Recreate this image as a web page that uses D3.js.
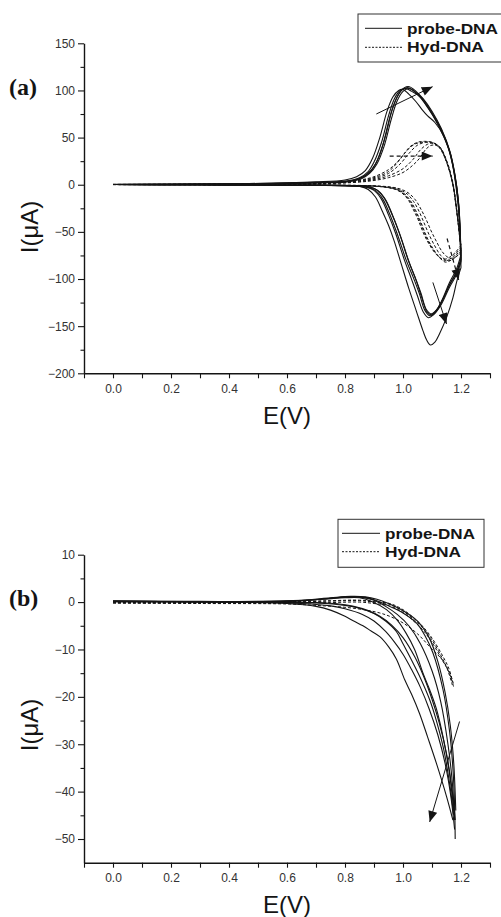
<!DOCTYPE html>
<html>
<head>
<meta charset="utf-8">
<script src="https://cdn.jsdelivr.net/npm/d3@7"></script>
<style>
  body { margin: 0; background: #fff; }
  svg { display: block; }
</style>
</head>
<body>
<svg id="chart" width="501" height="917"></svg>
<script>
// ---- Axis ticks ----
const eTicks = [0.0, 0.2, 0.4, 0.6, 0.8, 1.0, 1.2];
const eMinorTicks = [-0.1, 0.1, 0.3, 0.5, 0.7, 0.9, 1.1, 1.3];
const aCurrentTicks = [150, 100, 50, 0, -50, -100, -150, -200];
const aCurrentMinor = [125, 75, 25, -25, -75, -125, -175];
const bCurrentTicks = [10, 0, -10, -20, -30, -40, -50];
const bCurrentMinor = [5, -5, -15, -25, -35, -45];
const legendLabels = ['probe-DNA', 'Hyd-DNA'];

// ---- Panel (a): cyclic voltammograms, [E (V), I (µA)] ----
// probe-DNA, anodic sweeps 0 -> 1.2 V
const aProbeFwd1 = [[0,0.3],[0.2,0.4],[0.4,0.8],[0.6,1.5],[0.7,2.2],[0.8,3.2],[0.85,6.5],[0.88,12],[0.905,22],[0.93,42],[0.955,72],[0.975,90],[0.995,100],[1.015,103],[1.035,100],[1.06,93],[1.09,80],[1.125,62],[1.158,38],[1.177,13],[1.19,-15],[1.2,-78]];
const aProbeFwd2 = [[0,0.3],[0.2,0.5],[0.4,0.9],[0.6,1.7],[0.7,2.5],[0.8,3.8],[0.85,7.5],[0.88,14],[0.9,24],[0.925,44],[0.95,73],[0.97,91],[0.99,100],[1.01,102],[1.03,99],[1.055,94],[1.085,82],[1.12,64],[1.155,40],[1.175,15],[1.19,-18],[1.2,-82]];
const aProbeFwd3 = [[0,0.2],[0.2,0.3],[0.4,0.7],[0.6,1.3],[0.7,2],[0.8,2.8],[0.855,6],[0.885,12],[0.91,22],[0.935,41],[0.96,70],[0.98,89],[1.0,99],[1.02,102],[1.04,99],[1.065,92],[1.095,79],[1.13,60],[1.16,37],[1.179,11],[1.192,-20],[1.2,-74]];
const aProbeFwd4 = [[0,0.4],[0.2,0.6],[0.4,1],[0.6,2],[0.7,3],[0.8,5],[0.84,8.5],[0.87,15],[0.895,28],[0.92,50],[0.945,78],[0.965,93],[0.985,100],[1.0,101],[1.02,96],[1.045,88],[1.065,80],[1.085,73],[1.11,66],[1.14,52],[1.165,30],[1.182,0],[1.194,-35],[1.2,-88]];
const aProbeFwd5 = [[0,0.3],[0.3,0.5],[0.5,1],[0.65,1.8],[0.75,2.6],[0.82,4],[0.86,8],[0.89,15],[0.915,28],[0.94,52],[0.963,80],[0.985,96],[1.005,103],[1.022,104],[1.045,99],[1.07,91],[1.1,78],[1.133,59],[1.163,34],[1.18,8],[1.193,-25],[1.2,-80]];
// probe-DNA, cathodic sweeps 1.2 -> 0 V
const aProbeRev1 = [[1.2,-78],[1.185,-92],[1.16,-106],[1.13,-126],[1.11,-135],[1.093,-139],[1.075,-133],[1.057,-116],[1.035,-98],[1.011,-80],[0.98,-52],[0.954,-31],[0.93,-15],[0.905,-6],[0.875,-2.5],[0.8,-1],[0.6,-0.5],[0.4,-0.2],[0.2,0],[0,0.2]];
const aProbeRev2 = [[1.2,-82],[1.185,-95],[1.16,-109],[1.13,-128],[1.105,-138],[1.088,-141],[1.07,-135],[1.05,-118],[1.028,-99],[1.005,-80],[0.975,-52],[0.95,-32],[0.925,-15],[0.9,-6],[0.87,-2.5],[0.8,-1],[0.6,-0.5],[0.3,0],[0,0.2]];
const aProbeRev3 = [[1.2,-74],[1.185,-89],[1.16,-104],[1.135,-122],[1.115,-133],[1.098,-137],[1.08,-132],[1.062,-115],[1.04,-97],[1.017,-79],[0.987,-51],[0.96,-30],[0.935,-14],[0.91,-5.5],[0.88,-2],[0.8,-0.8],[0.6,-0.4],[0.3,0],[0,0.2]];
const aProbeRev4 = [[1.2,-88],[1.185,-103],[1.172,-120],[1.15,-141],[1.126,-158],[1.11,-167],[1.095,-170],[1.082,-165],[1.069,-155],[1.046,-134],[1.02,-110],[0.995,-85],[0.97,-60],[0.95,-43],[0.93,-29],[0.905,-13],[0.88,-5],[0.855,-2],[0.8,-1],[0.6,-0.4],[0.3,0],[0,0.3]];
const aProbeRev5 = [[1.2,-80],[1.185,-93],[1.165,-104],[1.14,-120],[1.12,-132],[1.1,-138],[1.083,-135],[1.065,-120],[1.045,-101],[1.022,-83],[0.992,-55],[0.965,-33],[0.94,-16],[0.915,-6.5],[0.885,-2.5],[0.8,-1],[0.6,-0.5],[0.3,0],[0,0.2]];
// Hyd-DNA, anodic sweeps
const aHydFwd1 = [[0,0.3],[0.3,0.5],[0.6,1],[0.75,2],[0.85,4.5],[0.9,7.5],[0.95,14],[0.99,27],[1.023,40],[1.05,45],[1.075,46],[1.1,45],[1.126,40],[1.15,24],[1.172,0],[1.186,-30],[1.2,-66]];
const aHydFwd2 = [[0,0.2],[0.3,0.4],[0.6,0.9],[0.75,1.8],[0.85,4],[0.9,6.5],[0.95,12],[0.99,22],[1.02,33],[1.05,42],[1.078,45],[1.1,45],[1.126,40],[1.15,25],[1.172,1],[1.186,-30],[1.2,-68]];
const aHydFwd3 = [[0,0.2],[0.3,0.4],[0.6,0.8],[0.75,1.5],[0.85,3.3],[0.9,5.5],[0.95,9.5],[1.0,17],[1.035,27],[1.06,37],[1.085,43],[1.105,44],[1.13,39],[1.152,23],[1.173,-1],[1.187,-32],[1.2,-70]];
const aHydFwd4 = [[0,0.2],[0.3,0.3],[0.6,0.7],[0.75,1.3],[0.85,2.8],[0.9,4.5],[0.95,7.5],[1.0,13],[1.035,21],[1.057,28],[1.08,38],[1.1,42],[1.125,40],[1.15,26],[1.172,2],[1.187,-30],[1.2,-72]];
const aHydFwd5 = [[0,0.3],[0.3,0.5],[0.6,1],[0.75,2.2],[0.85,5],[0.9,8.5],[0.95,16],[0.98,24],[1.01,35],[1.04,43],[1.065,45],[1.09,45],[1.12,41],[1.148,26],[1.17,2],[1.185,-28],[1.2,-64]];
// Hyd-DNA, cathodic sweeps
const aHydRev1 = [[1.2,-66],[1.18,-74],[1.16,-79],[1.14,-80],[1.12,-75],[1.092,-63],[1.075,-52],[1.057,-38],[1.04,-27],[1.023,-17],[1.0,-9],[0.975,-5],[0.95,-3],[0.9,-1.5],[0.8,-0.7],[0.6,-0.3],[0.3,0],[0,0.2]];
const aHydRev2 = [[1.2,-68],[1.18,-76],[1.16,-81],[1.145,-82],[1.125,-77],[1.1,-66],[1.08,-54],[1.062,-40],[1.045,-28],[1.028,-18],[1.005,-9.5],[0.98,-5],[0.95,-3],[0.9,-1.5],[0.8,-0.7],[0.6,-0.3],[0.3,0],[0,0.2]];
const aHydRev3 = [[1.2,-70],[1.182,-77],[1.165,-80],[1.15,-80],[1.13,-75],[1.108,-64],[1.09,-53],[1.072,-40],[1.055,-28],[1.037,-18],[1.015,-10],[0.99,-5.5],[0.96,-3],[0.9,-1.3],[0.8,-0.6],[0.6,-0.3],[0.3,0],[0,0.2]];
const aHydRev4 = [[1.2,-72],[1.185,-76],[1.17,-78],[1.155,-77],[1.135,-71],[1.115,-60],[1.097,-49],[1.08,-37],[1.062,-26],[1.045,-17],[1.022,-9.5],[0.995,-5],[0.96,-2.5],[0.9,-1.2],[0.8,-0.5],[0.6,-0.2],[0.3,0],[0,0.2]];
const aHydRev5 = [[1.2,-64],[1.18,-72],[1.16,-77],[1.138,-79],[1.115,-74],[1.088,-62],[1.07,-51],[1.052,-37],[1.035,-26],[1.018,-16],[0.995,-8.5],[0.97,-4.5],[0.94,-2.6],[0.9,-1.4],[0.8,-0.7],[0.6,-0.3],[0.3,0],[0,0.2]];
// trend arrows, [start, tip]
const aSolidArrows = [[[0.908, 75], [1.102, 104]], [[1.103, -103.6], [1.15, -147.7]]];
const aDashedArrows = [[[0.954, 30.4], [1.102, 30.4]], [[1.152, -57], [1.192, -101]]];

// ---- Panel (b) ----
const bProbe1 = [[0,0.15],[0.3,0.1],[0.5,0.1],[0.65,0.3],[0.75,0.8],[0.82,1.1],[0.87,1.0],[0.91,0.3],[0.95,-0.8],[1.0,-2.3],[1.046,-4.4],[1.075,-7],[1.103,-10.7],[1.138,-18.5],[1.16,-27],[1.172,-35],[1.178,-43],[1.18,-50]];
const bProbe2 = [[0,0.2],[0.3,0.1],[0.5,0.1],[0.65,0.3],[0.75,0.8],[0.82,1.15],[0.86,1.0],[0.9,0.4],[0.94,-0.9],[0.98,-2.6],[1.02,-5],[1.06,-8.8],[1.1,-14.5],[1.13,-21],[1.155,-30],[1.17,-38],[1.178,-46]];
const bProbe3 = [[0,0.1],[0.4,0.1],[0.6,0.2],[0.72,0.6],[0.8,0.9],[0.85,0.9],[0.89,0.2],[0.943,-1.6],[0.98,-3.8],[1.011,-6.6],[1.04,-10],[1.069,-15],[1.092,-18.5],[1.115,-22.5],[1.14,-29],[1.16,-36],[1.175,-44]];
const bProbe4 = [[1.175,-45],[1.16,-38],[1.14,-31],[1.115,-25],[1.092,-20.6],[1.06,-16],[1.035,-12.9],[1.0,-8.8],[0.977,-6.2],[0.94,-4],[0.9,-2.4],[0.85,-1.3],[0.8,-0.7],[0.7,-0.2],[0.5,0],[0.3,0.05],[0,0.15]];
const bProbe5 = [[1.172,-46],[1.15,-41],[1.115,-34],[1.085,-28.5],[1.057,-23.5],[1.03,-19.5],[1.006,-16.4],[0.977,-12],[0.95,-9.4],[0.92,-7.3],[0.89,-6.1],[0.862,-5.0],[0.83,-4],[0.8,-3],[0.75,-1.7],[0.7,-0.9],[0.6,-0.3],[0.4,0],[0,0.1]];
const bProbe6 = [[1.178,-48],[1.165,-41],[1.145,-34],[1.12,-28],[1.09,-22.5],[1.06,-18],[1.03,-14.3],[1.0,-11],[0.97,-8.4],[0.94,-6.2],[0.9,-4],[0.86,-2.6],[0.8,-1.4],[0.75,-0.8],[0.65,-0.3],[0.5,0],[0,0.15]];
const bProbe7 = [[1.18,-46],[1.168,-39],[1.15,-32],[1.125,-25.5],[1.1,-20.5],[1.07,-15.5],[1.04,-11.5],[1.0,-7.5],[0.96,-4.8],[0.92,-3],[0.88,-1.8],[0.83,-0.9],[0.78,-0.4],[0.7,-0.1],[0.5,0.05],[0,0.15]];
const bProbe8 = [[0,0.2],[0.3,0.15],[0.5,0.15],[0.65,0.4],[0.75,0.9],[0.82,1.2],[0.87,1.1],[0.91,0.6],[0.95,-0.3],[1.0,-1.8],[1.05,-4],[1.09,-7.5],[1.12,-12.5],[1.145,-19],[1.163,-26],[1.175,-34],[1.182,-44]];
const bHyd1 = [[0,-0.1],[0.3,-0.1],[0.6,0],[0.75,0.2],[0.85,0.3],[0.9,0],[0.954,-0.3],[1.0,-1.6],[1.04,-3.5],[1.069,-5.2],[1.1,-7.6],[1.138,-11.5],[1.158,-14],[1.172,-17]];
const bHyd2 = [[0,0],[0.3,0],[0.6,0.1],[0.75,0.3],[0.85,0.4],[0.9,0.1],[0.95,-0.4],[1.0,-1.9],[1.04,-3.8],[1.07,-5.6],[1.1,-8],[1.135,-11.8],[1.155,-14.5],[1.17,-17.5]];
const bHyd3 = [[0,-0.2],[0.3,-0.2],[0.6,-0.2],[0.75,-0.1],[0.85,0],[0.9,-0.3],[0.954,-0.8],[1.0,-2.2],[1.04,-4.2],[1.07,-6],[1.1,-8.5],[1.135,-12.2],[1.16,-15],[1.175,-18]];
const bHyd4 = [[0,-0.2],[0.3,-0.3],[0.6,-0.4],[0.7,-0.7],[0.8,-1.1],[0.874,-1.7],[0.92,-2.3],[0.954,-3],[1.0,-4.4],[1.05,-6.7],[1.092,-9.4],[1.138,-12.4],[1.16,-14.8],[1.175,-17.5]];
const bSolidArrows = [[[1.195, -25.2], [1.092, -46.4]]];
const bDashedArrows = [];

// ---- Drawing ----
const svg = d3.select('#chart');
const INK = '#141414';
const SANS = '"Liberation Sans", Arial, Helvetica, sans-serif';
const SERIF = '"Liberation Serif", "Times New Roman", serif';

svg.append('defs').append('marker')
  .attr('id', 'arrowHead')
  .attr('viewBox', '0 0 12 10')
  .attr('refX', 12).attr('refY', 5)
  .attr('markerUnits', 'userSpaceOnUse')
  .attr('markerWidth', 12).attr('markerHeight', 9)
  .attr('orient', 'auto')
  .append('path').attr('d', 'M0,0 L12,5 L0,10 Z').attr('fill', INK);

const x = d3.scaleLinear().domain([-0.1, 1.3]).range([84, 490]);

const panels = [
  {
    label: '(a)', labelY: 95, top: 43.3, bottom: 373.3, yDomain: [-200, 150],
    yTicks: aCurrentTicks, yMinor: aCurrentMinor, titleY: 227,
    probe: [aProbeFwd1, aProbeFwd2, aProbeFwd3, aProbeFwd4, aProbeFwd5, aProbeRev1, aProbeRev2, aProbeRev3, aProbeRev4, aProbeRev5],
    hyd: [aHydFwd1, aHydFwd2, aHydFwd3, aHydFwd4, aHydFwd5, aHydRev1, aHydRev2, aHydRev3, aHydRev4, aHydRev5],
    solidArrows: aSolidArrows, dashedArrows: aDashedArrows,
    legend: { x0: 358, x1: 506, y0: 14, y1: 62, lineX0: 365, lineX1: 402, textX: 407, rows: [28.3, 47.3], baselines: [34, 52], widths: [91, 77] }
  },
  {
    label: '(b)', labelY: 606, top: 554.7, bottom: 862.7, yDomain: [-55, 10],
    yTicks: bCurrentTicks, yMinor: bCurrentMinor, titleY: 725,
    probe: [bProbe1, bProbe2, bProbe3, bProbe4, bProbe5, bProbe6, bProbe7, bProbe8],
    hyd: [bHyd1, bHyd2, bHyd3, bHyd4],
    solidArrows: bSolidArrows, dashedArrows: bDashedArrows,
    legend: { x0: 338, x1: 484, y0: 519.3, y1: 567.3, lineX0: 342, lineX1: 380, textX: 385, rows: [533.3, 551.7], baselines: [539, 557], widths: [90, 76] }
  }
];

function styleAxis(sel) {
  sel.select('.domain').attr('stroke', INK).attr('stroke-width', 1.4);
  sel.selectAll('.tick line').attr('stroke', INK).attr('stroke-width', 1.1);
  sel.selectAll('.tick text').attr('fill', '#333').style('font-family', SANS).style('font-size', '12px');
}

panels.forEach(p => {
  const y = d3.scaleLinear().domain(p.yDomain).range([p.bottom, p.top]);
  const g = svg.append('g');

  // minor ticks
  g.append('g').attr('transform', `translate(0,${p.bottom})`)
    .call(d3.axisBottom(x).tickValues(eMinorTicks).tickSize(5).tickFormat(''))
    .call(s => { s.select('.domain').remove(); styleAxis(s); });
  g.append('g').attr('transform', 'translate(84,0)')
    .call(d3.axisLeft(y).tickValues(p.yMinor).tickSize(3.5).tickFormat(''))
    .call(s => { s.select('.domain').remove(); styleAxis(s); });

  // major ticks and axis lines
  g.append('g').attr('transform', `translate(0,${p.bottom})`)
    .call(d3.axisBottom(x).tickValues(eTicks).tickSize(5).tickSizeOuter(0).tickPadding(6).tickFormat(d3.format('.1f')))
    .call(styleAxis);
  g.append('g').attr('transform', 'translate(84,0)')
    .call(d3.axisLeft(y).tickValues(p.yTicks).tickSize(6).tickSizeOuter(0).tickPadding(3))
    .call(styleAxis);

  // axis titles
  g.append('text').attr('x', 287).attr('y', p.bottom + 50.5)
    .attr('text-anchor', 'middle').attr('fill', INK)
    .style('font-family', SANS).style('font-size', '24px').text('E(V)');
  g.append('text').attr('transform', `translate(38,${p.titleY}) rotate(-90)`)
    .attr('text-anchor', 'middle').attr('fill', INK)
    .style('font-family', SANS).style('font-size', '24px').text('I(μA)');
  g.append('text').attr('x', 9).attr('y', p.labelY).attr('fill', INK)
    .style('font-family', SERIF).style('font-weight', 'bold').style('font-size', '24px').text(p.label);

  const line = d3.line().x(d => x(d[0])).y(d => y(d[1])).curve(d3.curveCatmullRom.alpha(0.5));

  g.append('g').selectAll('path').data(p.hyd).join('path')
    .attr('d', line).attr('fill', 'none').attr('stroke', INK)
    .attr('stroke-width', 1).attr('stroke-dasharray', '3,2');
  g.append('g').selectAll('path').data(p.probe).join('path')
    .attr('d', line).attr('fill', 'none').attr('stroke', INK).attr('stroke-width', 1.1);

  // trend arrows
  const arrow = d3.line().x(d => x(d[0])).y(d => y(d[1]));
  g.append('g').selectAll('path').data(p.solidArrows).join('path')
    .attr('d', arrow).attr('fill', 'none').attr('stroke', INK).attr('stroke-width', 1)
    .attr('marker-end', 'url(#arrowHead)');
  g.append('g').selectAll('path').data(p.dashedArrows).join('path')
    .attr('d', arrow).attr('fill', 'none').attr('stroke', INK).attr('stroke-width', 1.2)
    .attr('stroke-dasharray', '4,3').attr('marker-end', 'url(#arrowHead)');

  // legend
  const L = p.legend;
  const lg = g.append('g');
  lg.append('rect').attr('x', L.x0).attr('y', L.y0).attr('width', L.x1 - L.x0).attr('height', L.y1 - L.y0)
    .attr('fill', '#fff').attr('stroke', '#333').attr('stroke-width', 1);
  legendLabels.forEach((name, i) => {
    lg.append('line').attr('x1', L.lineX0).attr('x2', L.lineX1).attr('y1', L.rows[i]).attr('y2', L.rows[i])
      .attr('stroke', INK).attr('stroke-width', 1)
      .attr('stroke-dasharray', i === 1 ? '2,1.5' : null);
    lg.append('text').attr('x', L.textX).attr('y', L.baselines[i]).attr('fill', INK)
      .attr('textLength', L.widths[i]).attr('lengthAdjust', 'spacingAndGlyphs')
      .style('font-family', SANS).style('font-weight', 'bold').style('font-size', '15.5px').text(name);
  });
});
</script>
</body>
</html>
